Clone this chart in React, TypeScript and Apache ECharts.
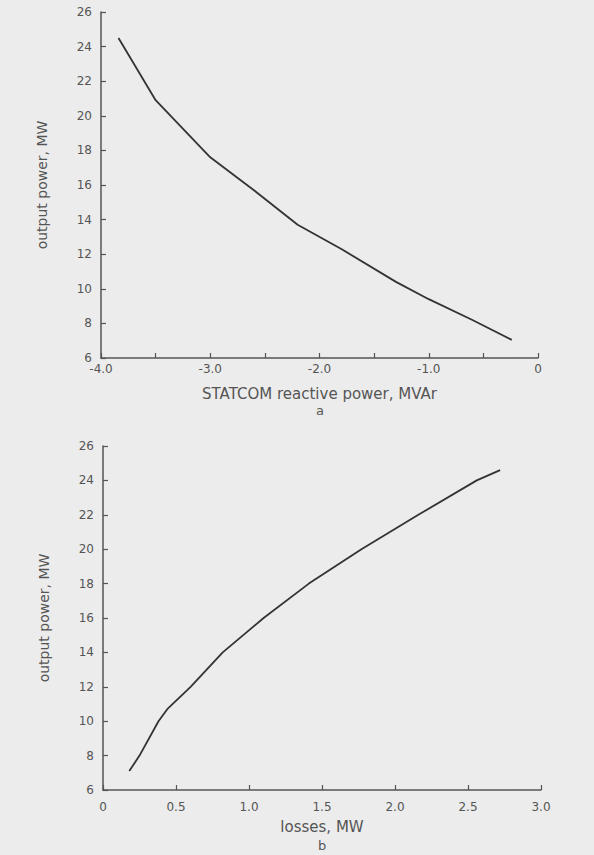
import React, { useEffect, useRef } from "react";
import * as echarts from "echarts";

// Chart a: STATCOM reactive power (MVAr) vs output power (MW)
const topX = [-3.84, -3.5, -3.0, -2.6, -2.2, -1.8, -1.3, -1.0, -0.6, -0.24];
const topY = [24.5, 20.9, 17.6, 15.7, 13.7, 12.3, 10.4, 9.4, 8.2, 7.05];

// Chart b: losses (MW) vs output power (MW)
const botX = [0.18, 0.25, 0.38, 0.44, 0.6, 0.82, 1.1, 1.41, 1.77, 2.16, 2.56, 2.72];
const botY = [7.1, 8.0, 10.0, 10.7, 12.0, 14.0, 16.0, 18.0, 20.0, 22.0, 24.0, 24.6];

const topXName = "STATCOM reactive power, MVAr";
const botXName = "losses, MW";
const yName = "output power, MW";
const captions = ["a", "b"];

const FONT = "'DejaVu Sans', Arial, sans-serif";
const TXT = "#555";
const AX = "#555";

function axisCommon() {
  return {
    axisLine: { show: true, onZero: false, lineStyle: { color: AX, width: 1.5 } },
    axisTick: { show: true, inside: true, length: 5, lineStyle: { color: AX, width: 1.2 } },
    splitLine: { show: false },
  };
}

export default function App() {
  const ref = useRef<HTMLDivElement>(null);
  useEffect(() => {
    if (!ref.current) return;
    const chart = echarts.init(ref.current, null, { renderer: "svg" });
    const topData = topX.map((x, i) => [x, topY[i]]);
    const botData = botX.map((x, i) => [x, botY[i]]);
    const yAxisBase = (gridIndex: number) => ({
      ...axisCommon(),
      type: "value",
      gridIndex,
      min: 6,
      max: 26,
      interval: 2,
      name: yName,
      nameLocation: "middle",
      nameGap: 52,
      nameTextStyle: { color: TXT, fontFamily: FONT, fontSize: 14 },
      axisLabel: { color: TXT, fontFamily: FONT, fontSize: 12, margin: 9 },
    });
    chart.setOption({
      animation: false,
      backgroundColor: "transparent",
      grid: [
        { left: 101, top: 12, width: 437, height: 346 },
        { left: 103, top: 446, width: 438, height: 344 },
      ],
      xAxis: [
        {
          ...axisCommon(),
          type: "value",
          gridIndex: 0,
          min: -4,
          max: 0,
          interval: 0.5,
          name: topXName,
          nameLocation: "middle",
          nameGap: 28,
          nameTextStyle: { color: TXT, fontFamily: FONT, fontSize: 15 },
          axisLabel: {
            color: TXT,
            fontFamily: FONT,
            fontSize: 12,
            margin: 5,
            formatter: (v: number) =>
              v === 0 ? "0" : Math.abs(v % 1) < 1e-9 ? v.toFixed(1) : "",
          },
        },
        {
          ...axisCommon(),
          type: "value",
          gridIndex: 1,
          min: 0,
          max: 3,
          interval: 0.5,
          name: botXName,
          nameLocation: "middle",
          nameGap: 29,
          nameTextStyle: { color: TXT, fontFamily: FONT, fontSize: 15 },
          axisLabel: {
            color: TXT,
            fontFamily: FONT,
            fontSize: 12,
            margin: 11,
            formatter: (v: number) => (v === 0 ? "0" : v.toFixed(1)),
          },
        },
      ],
      yAxis: [yAxisBase(0), yAxisBase(1)],
      series: [
        {
          type: "line",
          xAxisIndex: 0,
          yAxisIndex: 0,
          data: topData,
          showSymbol: false,
          lineStyle: { color: "#333", width: 1.8 },
        },
        {
          type: "line",
          xAxisIndex: 1,
          yAxisIndex: 1,
          data: botData,
          showSymbol: false,
          lineStyle: { color: "#333", width: 1.8 },
        },
      ],
      graphic: [
        {
          type: "text",
          x: 320,
          y: 410,
          style: { text: captions[0], fill: TXT, font: `13px ${FONT}`, textAlign: "center", textVerticalAlign: "middle" },
        },
        {
          type: "text",
          x: 322,
          y: 845,
          style: { text: captions[1], fill: TXT, font: `13px ${FONT}`, textAlign: "center", textVerticalAlign: "middle" },
        },
      ],
    });
    return () => chart.dispose();
  }, []);
  return (
    <div
      style={{ position: "fixed", left: 0, top: 0, width: 594, height: 855, background: "#ececec" }}
    >
      <div ref={ref} style={{ width: 594, height: 855 }} />
    </div>
  );
}
